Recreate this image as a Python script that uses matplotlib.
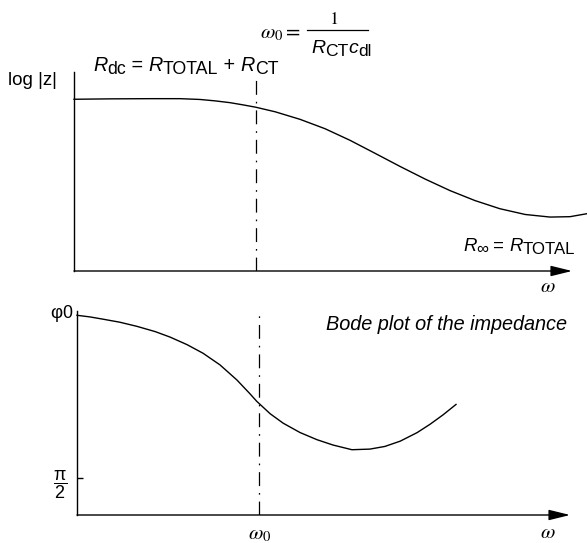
import matplotlib
matplotlib.use("Agg")
import matplotlib.pyplot as plt

plt.rcParams['font.family'] = ['Liberation Sans', 'DejaVu Sans']
plt.rcParams['mathtext.fontset'] = 'custom'
plt.rcParams['mathtext.rm'] = 'Liberation Sans'
plt.rcParams['mathtext.it'] = 'Liberation Sans:italic'
plt.rcParams['lines.scale_dashes'] = False

# log|Z| against log(omega), arbitrary units
mag_w = [0.00, 0.72, 1.53, 2.13, 2.53, 2.83, 3.13, 3.39, 3.65, 4.04, 4.54,
         5.04, 5.54, 6.04, 6.55, 7.05, 7.55, 8.05, 8.55, 9.06, 9.56, 9.96, 10.30]
mag_logz = [8.63, 8.65, 8.66, 8.66, 8.62, 8.55, 8.46, 8.35, 8.23, 8.00, 7.62,
            7.15, 6.57, 5.92, 5.25, 4.62, 4.04, 3.54, 3.13, 2.84, 2.71, 2.73, 2.88]

# phase angle against log(omega)
phase_w = [0.00, 0.26, 0.52, 0.86, 1.20, 1.57, 1.87, 2.21, 2.53, 2.87, 3.21,
           3.47, 3.61, 3.88, 4.14, 4.48, 4.82, 5.14, 5.52, 5.88, 6.18, 6.49,
           6.83, 7.09, 7.35, 7.61]
phase_phi = [9.79, 9.71, 9.60, 9.45, 9.25, 8.99, 8.72, 8.35, 7.93, 7.36, 6.62,
             5.95, 5.57, 4.96, 4.50, 4.04, 3.69, 3.43, 3.20, 3.23, 3.36, 3.62,
             4.04, 4.45, 4.91, 5.42]

omega0 = 3.66
half_pi = 1.81
mag_axis_end = 10.0
phase_axis_end = 9.9

W, H = 587, 543
DASHDOT = (0, (10, 5, 1.2, 5))

fig = plt.figure(figsize=(W / 100, H / 100), dpi=100)


def rect(left, top, right, bottom):
    return [left / W, 1 - bottom / H, (right - left) / W, (bottom - top) / H]


def panel(box, xmax):
    ax = fig.add_axes(box)
    ax.set_xlim(0, xmax)
    ax.set_ylim(0, 10)
    for s in ['top', 'right', 'bottom']:
        ax.spines[s].set_visible(False)
    ax.spines['left'].set_linewidth(1.0)
    ax.patch.set_visible(False)
    ax.set_xticks([])
    ax.set_yticks([])
    return ax


def arrow_axis(ax, end):
    ax.annotate('', xy=(end, 0), xytext=(0, 0),
                arrowprops=dict(arrowstyle='-|>,head_length=1.3,head_width=0.32',
                                mutation_scale=10, lw=1.0, color='black',
                                shrinkA=0, shrinkB=0),
                annotation_clip=False)


def chain(ax, x, y, pieces, size, sub_drop=3, sub_scale=0.9):
    # lay out text pieces left to right; subscript pieces drop below the baseline
    prev = None
    for txt, italic, sub in pieces:
        fs = size * sub_scale if sub else size
        yy = H - y - (sub_drop if sub else 0)
        if prev is None:
            xy, coords = (x, yy), 'figure pixels'
        else:
            xy, coords = (1, yy), (prev, 'figure pixels')
        prev = ax.annotate(txt, xy=xy, xycoords=coords, ha='left', va='baseline',
                           fontsize=fs, style='italic' if italic else 'normal',
                           annotation_clip=False)
    return prev


# magnitude panel
ax1 = panel(rect(74, 72, 587, 271), 10.3)
ax1.plot(mag_w, mag_logz, color='black', lw=1.0, clip_on=False)
ax1.plot([omega0, omega0], [0, 9.7], color='black', lw=0.9, linestyle=DASHDOT)
arrow_axis(ax1, mag_axis_end)

# phase panel
ax2 = panel(rect(77, 311, 587, 515), 10.24)
ax2.plot(phase_w, phase_phi, color='black', lw=1.0, clip_on=False)
ax2.plot([omega0, omega0], [0, 9.9], color='black', lw=0.9, linestyle=DASHDOT)
arrow_axis(ax2, phase_axis_end)
ax2.set_yticks([half_pi])
ax2.set_yticklabels([r'$\dfrac{\mathrm{\pi}}{2}$'], fontsize=13)
ax2.tick_params(axis='y', direction='in', length=4.5, width=1.0, pad=7)
ax2.set_xticks([omega0])
ax2.set_xticklabels([r'$\omega_0$'], fontsize=15, math_fontfamily='stix')
ax2.tick_params(axis='x', length=0, pad=7)

# labels
fig.text(8 / W, 1 - 80 / H, 'log |z|', fontsize=13.5, va='center', ha='left')
chain(ax1, 93, 71, [('R', True, False), ('dc', False, True), (' = ', False, False),
                    ('R', True, False), ('TOTAL', False, True), (' + ', False, False),
                    ('R', True, False), ('CT', False, True)], 14.2)
chain(ax1, 463, 251, [('R', True, False), ('∞', False, True), (' = ', False, False),
                      ('R', True, False), ('TOTAL', False, True)], 13.4)

fig.text(301 / W, 1 - 38 / H, r'$\omega_0 =$', fontsize=15, math_fontfamily='stix',
         ha='right', va='baseline')
fig.text(335 / W, 1 - 24 / H, '1', fontsize=13, family='STIXGeneral',
         ha='center', va='baseline')
fig.add_artist(plt.Line2D([307 / W, 368 / W], [1 - 29.5 / H, 1 - 29.5 / H],
                          color='black', lw=0.9))
chain(ax1, 311, 53, [('R', True, False), ('CT', False, True),
                     ('c', True, False), ('dl', False, True)], 14)

fig.text(548 / W, 1 - 287 / H, r'$\omega$', fontsize=15, math_fontfamily='stix',
         ha='center', va='center')
fig.text(548 / W, 1 - 532 / H, r'$\omega$', fontsize=15, math_fontfamily='stix',
         ha='center', va='center')
fig.text(567 / W, 1 - 325 / H, 'Bode plot of the impedance', fontsize=14.3,
         style='italic', ha='right', va='center')
chain(ax2, 50, 318, [('φ', False, False), ('0', False, True)], 13.5,
      sub_drop=0, sub_scale=0.95)

fig.savefig('out.png', dpi=100)
